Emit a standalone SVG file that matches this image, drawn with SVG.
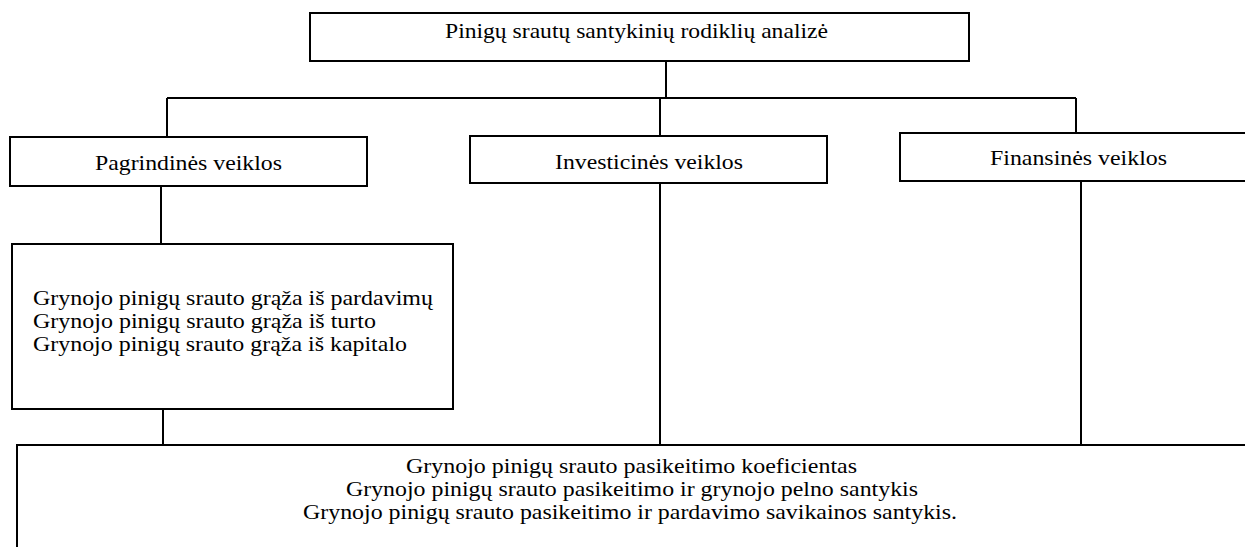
<svg xmlns="http://www.w3.org/2000/svg" width="1245" height="547" viewBox="0 0 1245 547">
<style>
.box{fill:#fff;stroke:#000;stroke-width:2}
.ln{fill:none;stroke:#000;stroke-width:2}
text{font-family:"Liberation Serif","Times New Roman",serif;font-size:22px;fill:#000}
</style>
<rect width="1245" height="547" fill="#fff"/>
<g id="connectors">
<path class="ln" d="M666 61V98M167 98H1076M167 98V137M660 98V136M1076 98V133"/>
<path class="ln" d="M161 186V244M163 409V445M660 183V445M1081 181V445"/>
</g>
<g id="root">
<rect class="box" x="310" y="13" width="659" height="48"/>
<text x="445" y="38" textLength="383" lengthAdjust="spacingAndGlyphs">Pinigų srautų santykinių rodiklių analizė</text>
</g>
<g id="pagrindines">
<rect class="box" x="10" y="137" width="357" height="49"/>
<text x="95" y="170" textLength="187" lengthAdjust="spacingAndGlyphs">Pagrindinės veiklos</text>
</g>
<g id="investicines">
<rect class="box" x="470" y="136" width="357" height="47"/>
<text x="555" y="169" textLength="188" lengthAdjust="spacingAndGlyphs">Investicinės veiklos</text>
</g>
<g id="finansines">
<rect class="box" x="900" y="133" width="360" height="48"/>
<text x="990" y="165" textLength="177" lengthAdjust="spacingAndGlyphs">Finansinės veiklos</text>
</g>
<g id="pagrindines-rodikliai">
<rect class="box" x="12" y="244" width="441" height="165"/>
<text x="33" y="305" textLength="400" lengthAdjust="spacingAndGlyphs">Grynojo pinigų srauto grąža iš pardavimų</text>
<text x="33" y="328" textLength="343" lengthAdjust="spacingAndGlyphs">Grynojo pinigų srauto grąža iš turto</text>
<text x="33" y="351" textLength="374" lengthAdjust="spacingAndGlyphs">Grynojo pinigų srauto grąža iš kapitalo</text>
</g>
<g id="bendri-rodikliai">
<rect class="box" x="17" y="445" width="1250" height="120"/>
<text x="406" y="473" textLength="451" lengthAdjust="spacingAndGlyphs">Grynojo pinigų srauto pasikeitimo koeficientas</text>
<text x="346" y="496" textLength="572" lengthAdjust="spacingAndGlyphs">Grynojo pinigų srauto pasikeitimo ir grynojo pelno santykis</text>
<text x="303" y="519" textLength="654" lengthAdjust="spacingAndGlyphs">Grynojo pinigų srauto pasikeitimo ir pardavimo savikainos santykis.</text>
</g>
</svg>
